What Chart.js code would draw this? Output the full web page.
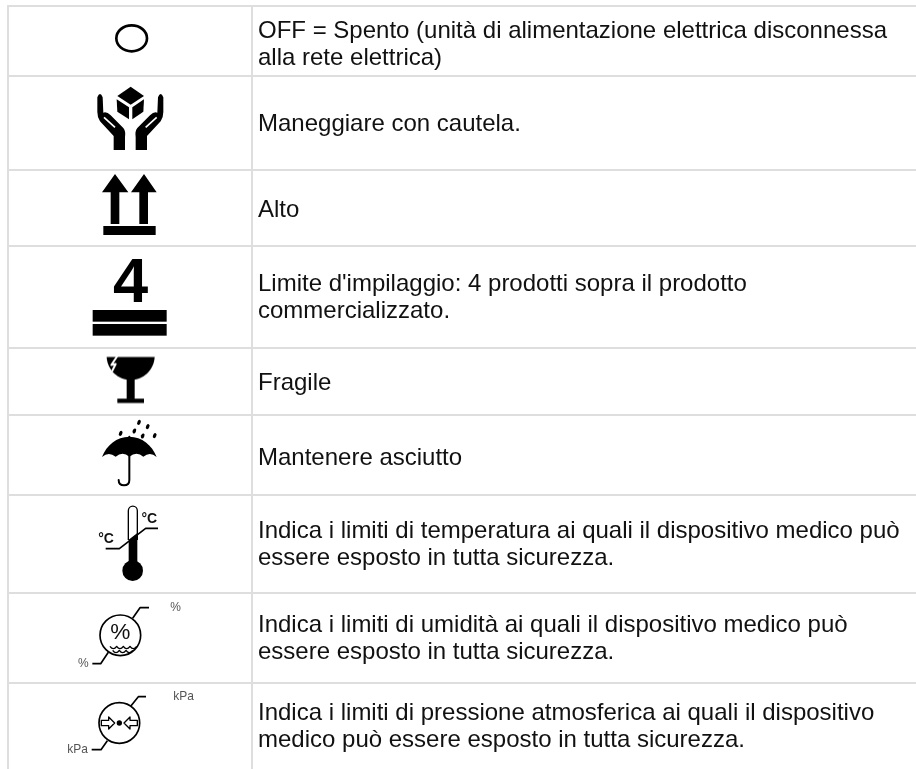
<!DOCTYPE html>
<html>
<head>
<meta charset="utf-8">
<title>Simboli</title>
<script src="https://cdn.jsdelivr.net/npm/chart.js@4"></script>
<style>
    html, body { margin: 0; padding: 0; background: #fff; overflow: hidden; }
    #wrap { width: 916px; height: 769px; }
</style>
</head>
<body>
<div id="wrap"><canvas id="symbolTable" width="916" height="769"></canvas></div>
<script>
const columnEdges = [8, 252];
const rowEdges = [6, 76, 170, 246, 348, 415, 495, 593, 683, 769];
const rowTexts = [
    ['OFF = Spento (unità di alimentazione elettrica disconnessa', 'alla rete elettrica)'],
    ['Maneggiare con cautela.'],
    ['Alto'],
    ["Limite d'impilaggio: 4 prodotti sopra il prodotto", 'commercializzato.'],
    ['Fragile'],
    ['Mantenere asciutto'],
    ['Indica i limiti di temperatura ai quali il dispositivo medico può', 'essere esposto in tutta sicurezza.'],
    ['Indica i limiti di umidità ai quali il dispositivo medico può', 'essere esposto in tutta sicurezza.'],
    ['Indica i limiti di pressione atmosferica ai quali il dispositivo', 'medico può essere esposto in tutta sicurezza.']
];
// the text does not sit exactly in the middle of every row
const rowTextShift = [4, 1, 2, 1, 2, 3, 1, 1, 1];

const FONT = '"Liberation Sans", Arial, sans-serif';
const rowCenters = rowTexts.map((t, i) => (rowEdges[i] + rowEdges[i + 1]) / 2);
const symbolX = (columnEdges[0] + columnEdges[1]) / 2;

// each symbol is painted once on its own canvas and used as a point style.
// drawing units are 1/3 px, origin (ox, oy) ends up on the cell centre
function makeSymbol(w, h, ox, oy, draw) {
    const c = document.createElement('canvas');
    c.width = w;
    c.height = h;
    const g = c.getContext('2d');
    g.translate(w / 2, h / 2);
    g.scale(1 / 3, 1 / 3);
    g.translate(-ox, -oy);
    g.fillStyle = '#000';
    g.strokeStyle = '#000';
    g.lineJoin = 'round';
    draw(g);
    return c;
}

function poly(g, pts) {
    g.beginPath();
    pts.forEach((p, i) => i ? g.lineTo(p[0], p[1]) : g.moveTo(p[0], p[1]));
    g.closePath();
    g.fill();
}

function line(g, pts, width) {
    g.lineWidth = width;
    g.beginPath();
    pts.forEach((p, i) => i ? g.lineTo(p[0], p[1]) : g.moveTo(p[0], p[1]));
    g.stroke();
}

function label(g, text, x, y, size, color, weight) {
    g.save();
    g.fillStyle = color;
    g.font = (weight || 'normal') + ' ' + size + 'px ' + FONT;
    g.textAlign = 'center';
    g.textBaseline = 'middle';
    g.fillText(text, x, y);
    g.restore();
}

function drawHand(g, flip) {
    g.save();
    if (flip) {
        g.translate(782, 0);
        g.scale(-1, 1);
    }
    g.beginPath();
    g.moveTo(292, 292);
    g.quadraticCurveTo(300, 272, 308, 292);
    g.lineTo(310, 338);
    g.quadraticCurveTo(320, 334, 332, 346);
    g.lineTo(370, 384);
    g.quadraticCurveTo(378, 394, 375, 412);
    g.lineTo(375, 450);
    g.lineTo(341, 450);
    g.lineTo(341, 408);
    g.lineTo(300, 364);
    g.quadraticCurveTo(292, 352, 292, 336);
    g.closePath();
    g.fill();
    g.strokeStyle = '#fff';
    line(g, [[312, 352], [345, 382]], 5);
    g.restore();
}

const symbols = [
    makeSymbol(60, 50, 390, 123, g => {
        g.lineWidth = 8;
        g.beginPath();
        g.ellipse(395, 115, 46, 39, 0, 0, Math.PI * 2);
        g.stroke();
    }),
    makeSymbol(90, 80, 390, 369, g => {
        drawHand(g, false);
        drawHand(g, true);
        poly(g, [[392, 260], [432, 288], [392, 314], [352, 288]]);
        poly(g, [[350, 298], [387, 322], [387, 358], [352, 335]]);
        poly(g, [[397, 322], [432, 298], [430, 335], [397, 358]]);
    }),
    makeSymbol(80, 70, 390, 624, g => {
        poly(g, [[345, 522], [385, 577], [358, 577], [358, 672], [332, 672], [332, 577], [306, 577]]);
        poly(g, [[432, 522], [470, 577], [444, 577], [444, 672], [418, 672], [418, 577], [393, 577]]);
        g.fillRect(310, 678, 157, 27);
    }),
    makeSymbol(90, 90, 390, 141, g => {
        label(g, '4', 392, 104, 190, '#000', 'bold');
        g.fillRect(278, 180, 222, 35);
        g.fillRect(278, 222, 222, 35);
    }),
    makeSymbol(70, 60, 390, 394.5, g => {
        g.beginPath();
        g.moveTo(320, 321);
        g.lineTo(464, 321);
        g.bezierCurveTo(462, 360, 430, 390, 392, 390);
        g.bezierCurveTo(354, 390, 322, 360, 320, 321);
        g.fill();
        g.fillRect(380, 380, 24, 68);
        g.fillRect(352, 446, 80, 13);
        g.strokeStyle = '#fff';
        line(g, [[352, 318], [334, 345], [347, 342], [336, 364]], 6);
    }),
    makeSymbol(70, 80, 390, 615, g => {
        g.beginPath();
        g.moveTo(306, 621);
        g.bezierCurveTo(320, 585, 350, 560, 388, 560);
        g.bezierCurveTo(426, 560, 456, 585, 470, 621);
        g.quadraticCurveTo(450, 603, 430, 620);
        g.quadraticCurveTo(410, 603, 388, 620);
        g.quadraticCurveTo(368, 603, 347, 620);
        g.quadraticCurveTo(326, 603, 306, 621);
        g.fill();
        g.lineCap = 'round';
        g.lineWidth = 6;
        g.beginPath();
        g.moveTo(388, 560);
        g.lineTo(388, 690);
        g.quadraticCurveTo(388, 706, 372, 706);
        g.quadraticCurveTo(356, 706, 356, 690);
        g.stroke();
        [[417, 517], [443, 530], [403, 543], [362, 550], [428, 558], [464, 557]].forEach(d => {
            g.save();
            g.translate(d[0], d[1]);
            g.rotate(0.4);
            g.beginPath();
            g.ellipse(0, 0, 5, 8, 0, 0, Math.PI * 2);
            g.fill();
            g.restore();
        });
    }),
    makeSymbol(90, 90, 120, 162, g => {
        g.lineWidth = 4;
        g.beginPath();
        g.moveTo(115, 150);
        g.lineTo(115, 62);
        g.arc(128.5, 62, 13.5, Math.PI, 0);
        g.lineTo(142, 150);
        g.stroke();
        poly(g, [[116, 149], [142, 129], [142, 225], [116, 225]]);
        g.beginPath();
        g.arc(128, 242, 31, 0, Math.PI * 2);
        g.fill();
        line(g, [[47, 176], [88, 176], [167, 115], [204, 115]], 5);
        label(g, '°C', 48, 146, 42, '#111', 'bold');
        label(g, '°C', 178, 87, 42, '#111', 'bold');
    }),
    makeSymbol(150, 80, 390, 387, g => {
        g.lineWidth = 5;
        g.beginPath();
        g.arc(361, 379, 61, 0, Math.PI * 2);
        g.stroke();
        line(g, [[398, 328], [420, 296], [447, 296]], 5);
        line(g, [[325, 430], [302, 464], [277, 464]], 5);
        label(g, '%', 361, 370, 68, '#111');
        g.lineWidth = 4;
        [0, 1].forEach(row => {
            const y = 412 + row * 12;
            g.beginPath();
            g.moveTo(330 + row * 8, y);
            for (let x = 330 + row * 8; x < 392 - row * 8; x += 20) {
                g.quadraticCurveTo(x + 10, y + 14, x + 20, y);
            }
            g.stroke();
        });
        label(g, '%', 527, 297, 36, '#555');
        label(g, '%', 250, 464, 36, '#555');
    }),
    makeSymbol(150, 80, 390, 651, g => {
        g.lineWidth = 5;
        g.beginPath();
        g.arc(358, 642, 61, 0, Math.PI * 2);
        g.stroke();
        line(g, [[392, 592], [415, 563], [438, 563]], 5);
        line(g, [[322, 695], [303, 722], [275, 722]], 5);
        g.beginPath();
        g.arc(358, 642, 8, 0, Math.PI * 2);
        g.fill();
        g.lineWidth = 4;
        [1, -1].forEach(dir => {
            g.save();
            g.translate(358, 642);
            g.scale(dir, 1);
            g.beginPath();
            g.moveTo(-14, 0);
            g.lineTo(-32, -18);
            g.lineTo(-32, -8);
            g.lineTo(-54, -8);
            g.lineTo(-54, 8);
            g.lineTo(-32, 8);
            g.lineTo(-32, 18);
            g.closePath();
            g.stroke();
            g.restore();
        });
        label(g, 'kPa', 551, 563, 36, '#555');
        label(g, 'kPa', 233, 722, 36, '#555');
    })
];

// table text goes through the scales as well
const rowTextPlugin = {
    id: 'rowText',
    afterDatasetsDraw(chart) {
        const { ctx, scales } = chart;
        ctx.save();
        ctx.font = '24px ' + FONT;
        ctx.fillStyle = '#111';
        ctx.textAlign = 'left';
        ctx.textBaseline = 'middle';
        rowTexts.forEach((lines, i) => {
            const y = scales.y.getPixelForValue(rowCenters[i]) + rowTextShift[i];
            const x = scales.x.getPixelForValue(columnEdges[1]) + 6;
            lines.forEach((t, n) => {
                ctx.fillText(t, x, y + (n - (lines.length - 1) / 2) * 27);
            });
        });
        ctx.restore();
    }
};

new Chart(document.getElementById('symbolTable').getContext('2d'), {
    type: 'scatter',
    data: {
        datasets: [{
            label: 'Simboli',
            data: rowCenters.map(y => ({ x: symbolX, y: y })),
            pointStyle: symbols,
            pointRadius: 10,
            clip: false
        }]
    },
    plugins: [rowTextPlugin],
    options: {
        responsive: false,
        animation: false,
        layout: { autoPadding: false, padding: { left: 7, top: 5, right: 0, bottom: 0 } },
        plugins: { legend: { display: false }, tooltip: { enabled: false } },
        scales: {
            x: {
                type: 'linear',
                min: 7,
                max: 916,
                afterBuildTicks: scale => { scale.ticks = columnEdges.map(v => ({ value: v })); },
                ticks: { display: false },
                border: { display: false },
                grid: { color: '#dedede', lineWidth: 2, drawTicks: false }
            },
            y: {
                type: 'linear',
                reverse: true,
                min: 5,
                max: 769,
                afterBuildTicks: scale => { scale.ticks = rowEdges.slice(0, -1).map(v => ({ value: v })); },
                ticks: { display: false },
                border: { display: false },
                grid: { color: '#dedede', lineWidth: 2, drawTicks: false }
            }
        }
    }
});
</script>
</body>
</html>
